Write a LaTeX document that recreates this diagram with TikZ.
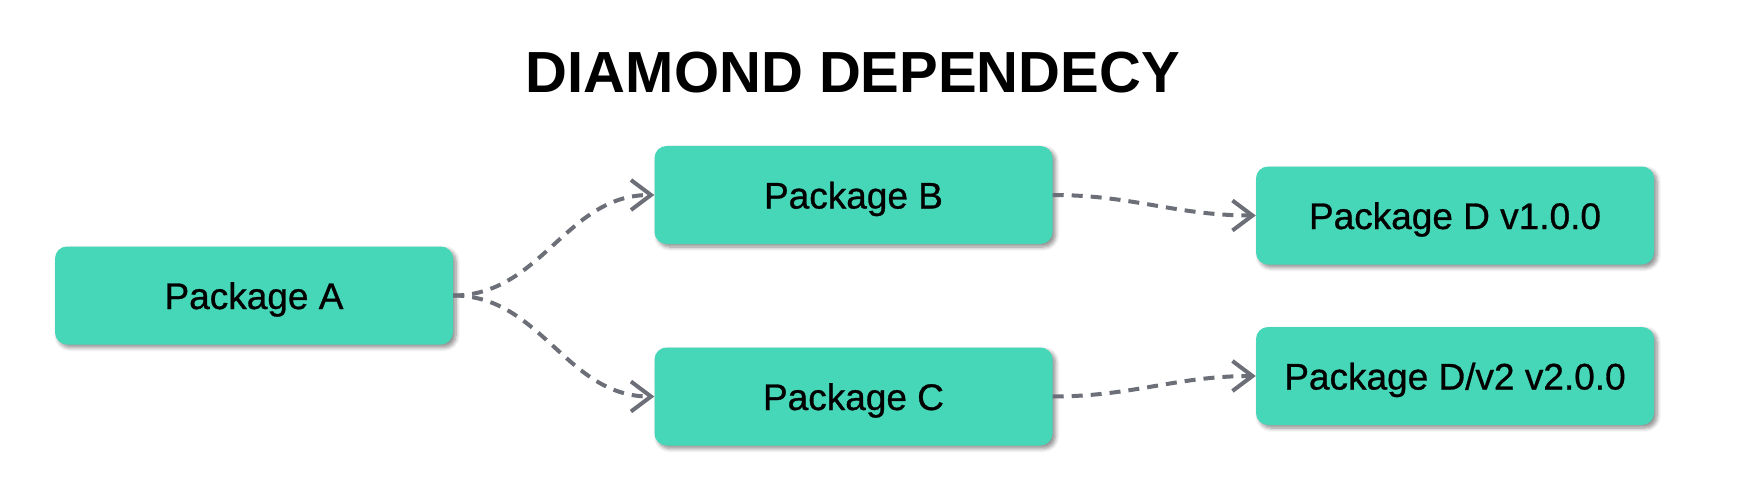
\documentclass[tikz,border=0pt]{standalone}
\usepackage{fontspec}
\setmainfont{Liberation Sans}
\newfontfamily\pkgfont[FakeBold=0.8]{Liberation Sans}
\usetikzlibrary{arrows.meta,shadows.blur}
\definecolor{boxfill}{HTML}{45D7B7}
\definecolor{linegray}{HTML}{6C6F77}
\tikzset{
  pkg/.style={draw=none, fill=boxfill, rounded corners=12pt, minimum width=398pt, minimum height=98pt,
    font=\pkgfont\fontsize{37}{44}\selectfont, text=black, inner sep=0pt, text height=27pt, text depth=0pt,
    blur shadow={shadow xshift=3pt, shadow yshift=-3pt, shadow blur steps=6, shadow blur radius=4pt, shadow opacity=45}},
  dep/.style={draw=linegray, line width=4pt, dash pattern=on 11pt off 8pt,
    -{Straight Barb[length=20pt,width=30pt,line width=4pt]}},
  ttl/.style={font=\bfseries\fontsize{58}{66}\selectfont, text=black, text height=42pt, text depth=0pt}
}
\begin{document}
\begin{tikzpicture}[x=1pt,y=-1pt]
\useasboundingbox (0,0) rectangle (1740,500);
\node[ttl] (title) at (853,72) {DIAMOND DEPENDECY};
\node[pkg] (A) at (254,295.5) {Package A};
\node[pkg] (B) at (853.5,195) {Package B};
\node[pkg] (C) at (853.5,396.5) {Package C};
\node[pkg] (D) at (1455,215.5) {Package D v1.0.0};
\node[pkg] (D2) at (1455,376) {Package D/v2 v2.0.0};
\draw[dep] (A.east) to[out=0,in=180] (B.west);
\draw[dep] (A.east) to[out=0,in=180] (C.west);
\draw[dep] (B.east) to[out=0,in=180] (D.west);
\draw[dep] (C.east) to[out=0,in=180] (D2.west);
\end{tikzpicture}
\end{document}
